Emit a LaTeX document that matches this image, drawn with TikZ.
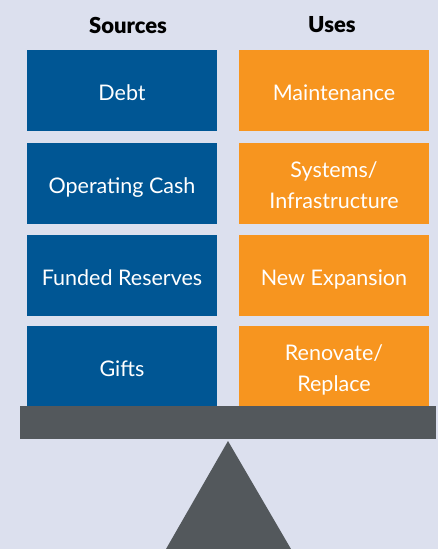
\documentclass[tikz,border=0pt]{standalone}
\usepackage{fontspec}
\setmainfont{Lato}[BoldFont={Lato Black}]
\definecolor{scalebg}{HTML}{DCE0EE}
\definecolor{srcblue}{HTML}{005694}
\definecolor{useorange}{HTML}{F7951F}
\definecolor{beamgrey}{HTML}{53585C}
\tikzset{
  sourcebox/.style={fill=srcblue, text=white, minimum width=190pt, minimum height=81pt,
    inner sep=0pt, align=center, text height=20pt, text depth=0pt,
    font=\fontsize{21.5}{31}\selectfont},
  usebox/.style={sourcebox, fill=useorange},
  twolines/.style={text height=50pt},
  heading/.style={font=\fontsize{22}{26}\selectfont\bfseries},
}

\begin{document}
\begin{tikzpicture}[x=1pt,y=-1pt]
  \fill[scalebg] (0,0) rectangle (438,549);
  \useasboundingbox (0,0) rectangle (438,549);

  \node[heading] (sources) at (128,25) {Sources};
  \node[heading] (uses) at (332,25) {Uses};

  \node[sourcebox] (debt) at (122,90.5) {Debt};
  \node[sourcebox] (opcash) at (122,183.5) {Operating Cash};
  \node[sourcebox] (reserves) at (122,275.5) {Funded Reserves};
  \node[sourcebox] (gifts) at (122,366.5) {Gifts};

  \node[usebox] (maint) at (334,90.5) {Maintenance};
  \node[usebox, twolines] (systems) at (334,183.5) {Systems/\\Infrastructure};
  \node[usebox] (expansion) at (334,275.5) {New Expansion};
  \node[usebox, twolines] (renovate) at (334,366.5) {Renovate/\\Replace};

  % the balance
  \fill[beamgrey] (20,406) rectangle (436,439);
  \fill[beamgrey] (228,441) -- (291,549) -- (166,549) -- cycle;
\end{tikzpicture}
\end{document}
